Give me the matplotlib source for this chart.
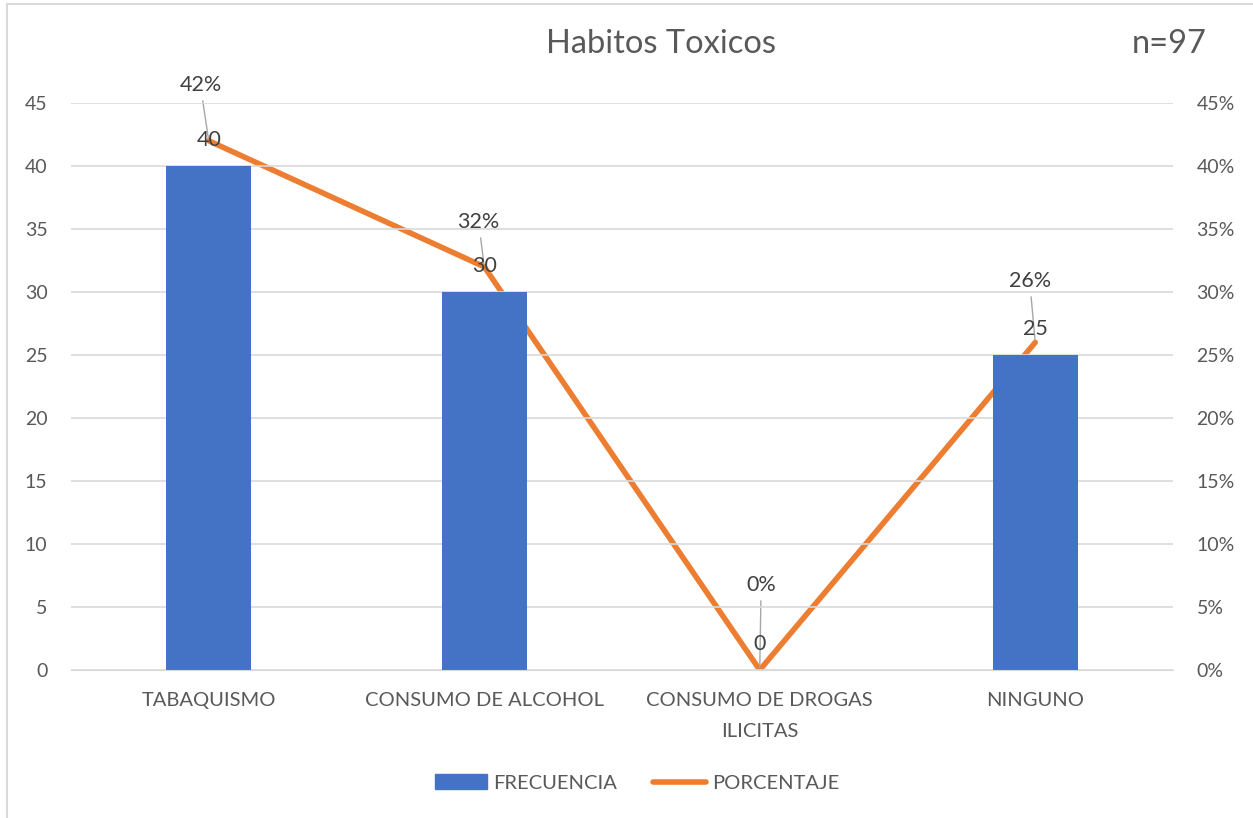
import matplotlib

matplotlib.use("Agg")
import matplotlib.pyplot as plt
from matplotlib.lines import Line2D
from matplotlib.patches import Patch

plt.rcParams.update({"font.family": ["Lato", "DejaVu Sans"], "font.size": 14})

# --- data ---
categories = ["TABAQUISMO", "CONSUMO DE ALCOHOL", "CONSUMO DE DROGAS\nILICITAS", "NINGUNO"]
frecuencia = [40, 30, 0, 25]
porcentaje = [0.42, 0.32, 0.0, 0.26]
pct_labels = ["42%", "32%", "0%", "26%"]
left_ticks = list(range(0, 50, 5))
right_ticks = [t / 100 for t in range(0, 50, 5)]

BAR_COLOR = "#4472C4"
LINE_COLOR = "#ED7D31"
TEXT_COLOR = "#595959"
LABEL_COLOR = "#404040"
GRID_COLOR = "#D9D9D9"

W, H = 1253, 818
fig = plt.figure(figsize=(W / 100, H / 100), dpi=100)

# light outer frame (only top and left edges are visible in the reference)
fig.add_artist(Line2D([7 / W, 7 / W], [0, 1 - 4 / H], color=GRID_COLOR, lw=1.5))
fig.add_artist(Line2D([7 / W, 1], [1 - 4 / H, 1 - 4 / H], color=GRID_COLOR, lw=1.5))

ax = fig.add_axes([71 / W, 1 - 670 / H, (1173 - 71) / W, (670 - 103) / H])
x = list(range(len(categories)))
ax.bar(x, frecuencia, width=0.31, color=BAR_COLOR, zorder=2)
ax.set_xlim(-0.5, len(categories) - 0.5)
ax.set_ylim(0, 45)
ax.set_yticks(left_ticks)
ax.set_xticks(x)
ax.set_xticklabels(categories, linespacing=2.0, fontsize=14.5)
ax.grid(True, axis="y", color=GRID_COLOR, lw=1.2, zorder=0)
ax.set_axisbelow(True)
for s in ax.spines.values():
    s.set_visible(False)
ax.spines["bottom"].set_visible(True)
ax.spines["bottom"].set_color(GRID_COLOR)
ax.tick_params(axis="both", length=0, colors=TEXT_COLOR)
ax.tick_params(axis="y", labelsize=14, pad=17)
ax.tick_params(axis="x", pad=16)

ax2 = ax.twinx()
ax2.plot(x, porcentaje, color=LINE_COLOR, lw=4, solid_capstyle="round", zorder=3)
ax2.set_ylim(0, 0.45)
ax2.set_yticks(right_ticks)
ax2.set_yticklabels([f"{int(round(t * 100))}%" for t in right_ticks])
for s in ax2.spines.values():
    s.set_visible(False)
ax2.tick_params(axis="y", length=0, colors=TEXT_COLOR, labelsize=14, pad=17)

# bar value labels, sitting ~26 px above each bar top
for i, v in enumerate(frecuencia):
    ax.annotate(str(v), xy=(i, v), xytext=(0, 19), textcoords="offset points",
                ha="center", va="center", color=LABEL_COLOR, fontsize=15.5, zorder=5)
ax.set_zorder(ax2.get_zorder() + 1)
ax.patch.set_visible(False)

# percentage labels with leader lines (positions dragged by hand in the original)
pct_offsets = [(-6, 40), (-4, 32), (1, 61), (-4, 44)]
for i, (p, lab) in enumerate(zip(porcentaje, pct_labels)):
    ax2.annotate(lab, xy=(i, p), xytext=pct_offsets[i], textcoords="offset points",
                 ha="center", va="center", color=LABEL_COLOR, fontsize=15.5,
                 arrowprops=dict(arrowstyle="-", color="#A6A6A6", lw=1,
                                 shrinkA=2, shrinkB=2))

fig.text(661 / W, 1 - 44 / H, "Habitos Toxicos", ha="center", va="center",
         fontsize=23.5, color=TEXT_COLOR)
fig.text(1169 / W, 1 - 44 / H, "n=97", ha="center", va="center",
         fontsize=23.5, color=TEXT_COLOR)

handles = [Patch(color=BAR_COLOR, label="FRECUENCIA"),
           Line2D([], [], color=LINE_COLOR, lw=4, solid_capstyle="round", label="PORCENTAJE")]
leg = fig.legend(handles=handles, loc="center", bbox_to_anchor=(637 / W, 1 - 783 / H),
                 ncol=2, frameon=False, fontsize=14.5, handlelength=2.6, handleheight=0.75,
                 columnspacing=1.8, handletextpad=0.3)
for t in leg.get_texts():
    t.set_color(TEXT_COLOR)

fig.savefig("out.png", dpi=100)
